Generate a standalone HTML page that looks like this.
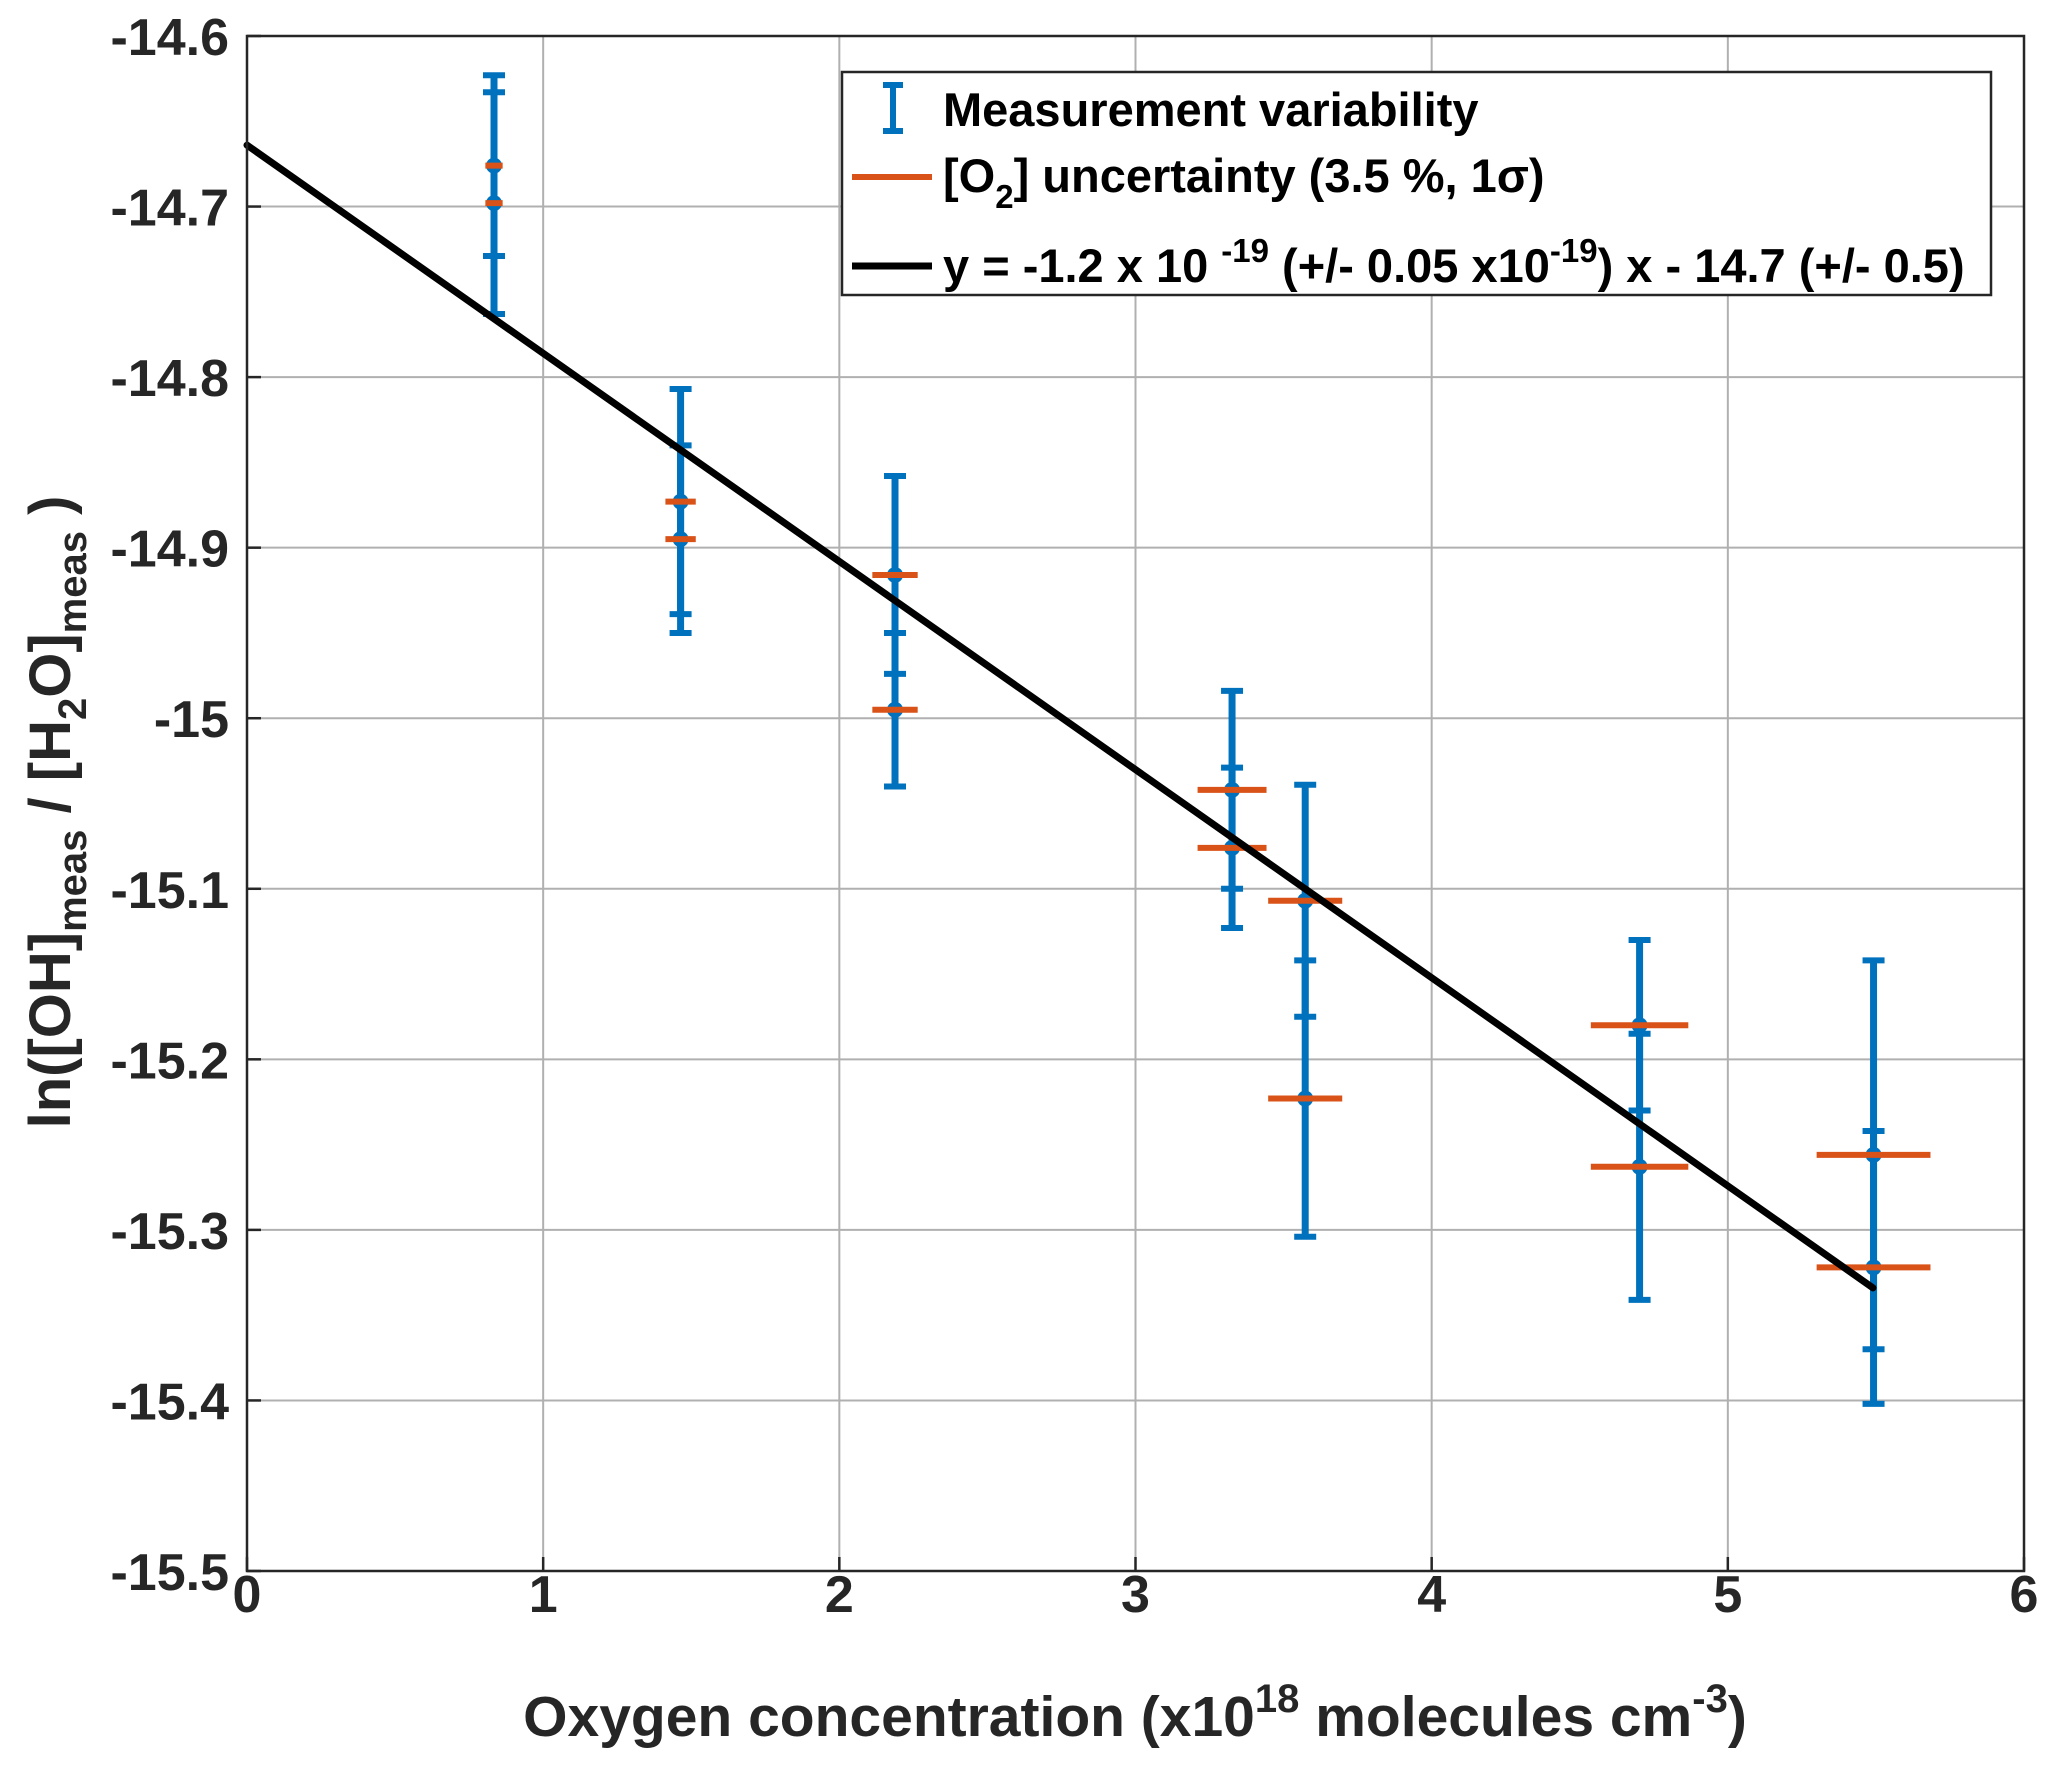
<!DOCTYPE html>
<html><head><meta charset="utf-8"><style>
html,body{margin:0;padding:0;background:#fff;}
svg{display:block;font-family:"Liberation Sans",sans-serif;font-weight:bold;}
</style></head><body>
<svg id="chart" width="2054" height="1765" viewBox="0 0 2054 1765" xmlns="http://www.w3.org/2000/svg">
<rect x="0" y="0" width="2054" height="1765" fill="#fff"/>
<g id="grid"></g>
<g id="marks"></g>
<g id="axes"></g>
<g>
<rect x="842" y="72" width="1149" height="223" fill="#fff" stroke="#262626" stroke-width="2.5"/>
<g>
<line x1="893" y1="85" x2="893" y2="131" stroke="#0072BD" stroke-width="6"/>
<line x1="883" y1="85" x2="903" y2="85" stroke="#0072BD" stroke-width="6"/>
<line x1="883" y1="131" x2="903" y2="131" stroke="#0072BD" stroke-width="6"/>
<text x="943" y="126" font-size="47" fill="#000">Measurement variability</text>
</g>
<g>
<line x1="852" y1="177" x2="932" y2="177" stroke="#D95319" stroke-width="6"/>
<text x="943" y="192" font-size="47" fill="#000">[O<tspan font-size="33" dy="16">2</tspan><tspan dy="-16">]  uncertainty (3.5 %, 1σ)</tspan></text>
</g>
<g>
<line x1="852" y1="266" x2="932" y2="266" stroke="#000" stroke-width="7"/>
<text x="943" y="282" font-size="47" fill="#000">y = -1.2 x 10 <tspan font-size="33" dy="-20">-19</tspan><tspan dy="20"> (+/- 0.05 x10</tspan><tspan font-size="33" dy="-20">-19</tspan><tspan dy="20">) x - 14.7 (+/- 0.5)</tspan></text>
</g>
</g>
<text x="1135" y="1736" font-size="57" fill="#262626" text-anchor="middle">Oxygen concentration (x10<tspan font-size="40" dy="-24">18</tspan><tspan dy="24"> molecules cm</tspan><tspan font-size="40" dy="-24">-3</tspan><tspan dy="24">)</tspan></text>
<text transform="translate(70,812) rotate(-90)" font-size="58" fill="#262626" text-anchor="middle">ln([OH]<tspan font-size="40" dy="16">meas</tspan><tspan dy="-16"> / [H</tspan><tspan font-size="40" dy="16">2</tspan><tspan dy="-16">O]</tspan><tspan font-size="40" dy="16">meas</tspan><tspan dy="-16"> )</tspan></text>
</svg>
<script>
const xTicks = [0,1,2,3,4,5,6];
const yTicks = [-14.6,-14.7,-14.8,-14.9,-15,-15.1,-15.2,-15.3,-15.4,-15.5];
const yTickLabels = ["-14.6","-14.7","-14.8","-14.9","-15","-15.1","-15.2","-15.3","-15.4","-15.5"];
const ptX = [0.834,0.834,1.464,1.464,2.188,2.188,3.326,3.326,3.573,3.573,4.702,4.702,5.492,5.492];
const ptY = [-14.676,-14.698,-14.873,-14.895,-14.916,-14.995,-15.042,-15.076,-15.107,-15.223,-15.180,-15.263,-15.256,-15.322];
const ptErr = [0.053,0.065,0.066,0.055,0.058,0.045,0.058,0.047,0.068,0.081,0.050,0.078,0.114,0.080];
const o2RelErr = 0.035;
const fitX = [0,5.49];
const fitY = [-14.664,-15.334];

const L=247,R=2024,T=36,B=1571;
const xmin=0,xmax=6,ymin=-15.5,ymax=-14.6;
const sx=v=>L+(v-xmin)/(xmax-xmin)*(R-L);
const sy=v=>B-(v-ymin)/(ymax-ymin)*(B-T);
const NS="http://www.w3.org/2000/svg";
function mk(tag,attrs,parent){const e=document.createElementNS(NS,tag);for(const k in attrs)e.setAttribute(k,attrs[k]);parent.appendChild(e);return e;}
const grid=document.getElementById('grid'),marks=document.getElementById('marks'),axes=document.getElementById('axes');

xTicks.forEach((t,i)=>{
  const g=mk('line',{x1:sx(t),x2:sx(t),y1:T,y2:B,stroke:'#b0b0b0','stroke-width':2},grid);
  
  
  const tk=mk('line',{x1:sx(t),x2:sx(t),y1:B,y2:B-14,stroke:'#262626','stroke-width':2.5},axes);
  
  
  const tl=mk('text',{x:sx(t),y:1612,'font-size':52,fill:'#262626','text-anchor':'middle'},axes);
  tl.textContent=String(t);
  
  
});
yTicks.forEach((t,i)=>{
  const g=mk('line',{x1:L,x2:R,y1:sy(t),y2:sy(t),stroke:'#b0b0b0','stroke-width':2},grid);
  
  
  const tk=mk('line',{x1:L,x2:L+14,y1:sy(t),y2:sy(t),stroke:'#262626','stroke-width':2.5},axes);
  
  
  const tl=mk('text',{x:229,y:sy(t)+19,'font-size':52,fill:'#262626','text-anchor':'end'},axes);
  tl.textContent=yTickLabels[i];
  
  
});
const box=mk('rect',{x:L,y:T,width:R-L,height:B-T,fill:'none',stroke:'#262626','stroke-width':2.5},axes);



ptX.forEach((x,i)=>{
  const cx=sx(x),y=ptY[i];
  const g=mk('g',{},marks);
  
  
  const y1=sy(y+ptErr[i]),y2=sy(y-ptErr[i]);
  mk('line',{x1:cx,x2:cx,y1:y1,y2:y2,stroke:'#0072BD','stroke-width':7},g);
  mk('line',{x1:cx-11,x2:cx+11,y1:y1,y2:y1,stroke:'#0072BD','stroke-width':6},g);
  mk('line',{x1:cx-11,x2:cx+11,y1:y2,y2:y2,stroke:'#0072BD','stroke-width':6},g);
  mk('circle',{cx:cx,cy:sy(y),r:8,fill:'#0072BD'},g);
});
ptX.forEach((x,i)=>{
  const e=x*o2RelErr;
  const l=mk('line',{x1:sx(x-e),x2:sx(x+e),y1:sy(ptY[i]),y2:sy(ptY[i]),stroke:'#D95319','stroke-width':6},marks);
  
  
});
const fit=mk('polyline',{points:fitX.map((x,i)=>sx(x)+','+sy(fitY[i])).join(' '),fill:'none',stroke:'#000','stroke-width':7,'stroke-linecap':'round'},marks);


</script>
</body></html>
